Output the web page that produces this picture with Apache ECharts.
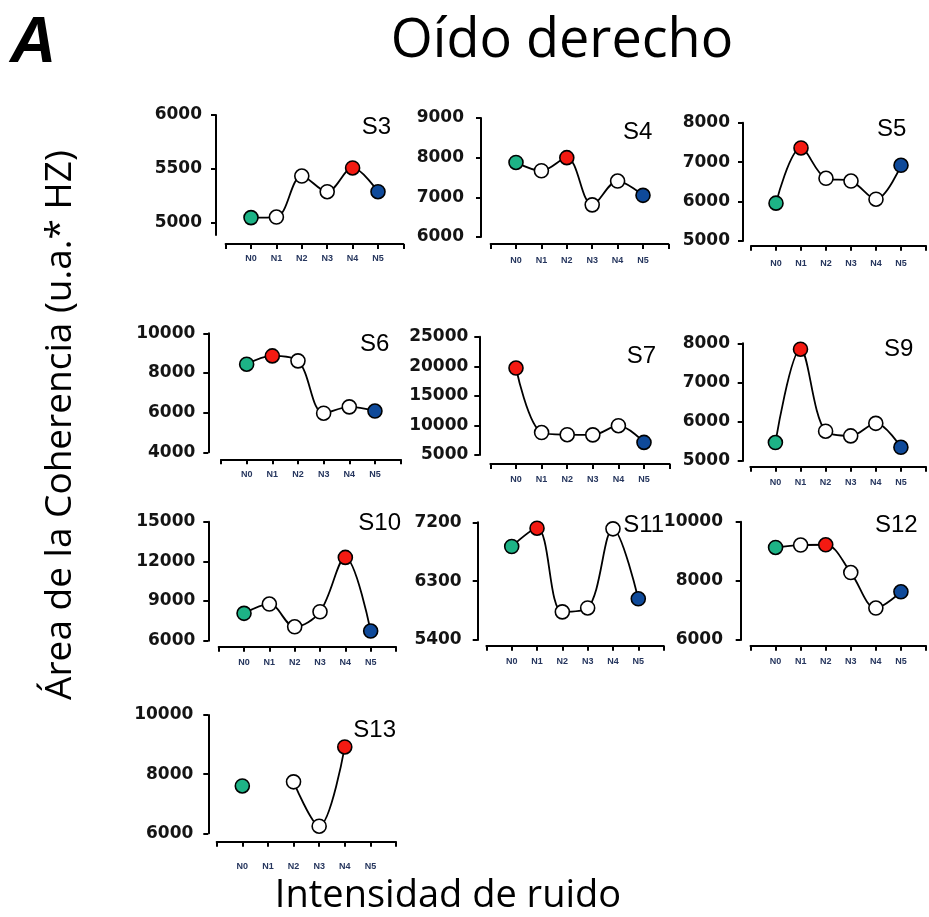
<!DOCTYPE html>
<html>
<head>
<meta charset="utf-8">
<script src="https://cdn.jsdelivr.net/npm/echarts@6/dist/echarts.min.js"></script>
<style>
html,body{margin:0;padding:0;background:#fff;}
#c{width:929px;height:917px;}
</style>
</head>
<body>
<div id="c"></div>
<script>
// ---- data ----
const categories = ['N0', 'N1', 'N2', 'N3', 'N4', 'N5'];
const subjects = ['S3', 'S4', 'S5', 'S6', 'S7', 'S9', 'S10', 'S11', 'S12', 'S13'];
const S3 = [5050, 5055, 5435, 5290, 5510, 5290];
const S4 = [7880, 7670, 8000, 6810, 7410, 7050];
const S5 = [5960, 7360, 6590, 6520, 6060, 6920];
const S6 = [8440, 8860, 8610, 5970, 6290, 6080];
const S7 = [19700, 8800, 8430, 8400, 9950, 7130];
const S9 = [5470, 7850, 5760, 5640, 5960, 5350];
const S10 = [8070, 8770, 7050, 8190, 12300, 6730];
const S11 = [6830, 7110, 5830, 5890, 7100, 6030];
const S12 = [9130, 9210, 9220, 8280, 7080, 7630];
const S13 = [7600, null, 7740, 6240, 8920, null];
const seriesValues = [S3, S4, S5, S6, S7, S9, S10, S11, S12, S13];
// y tick labels per panel
const yTicks = [
  [5000, 5500, 6000],
  [6000, 7000, 8000, 9000],
  [5000, 6000, 7000, 8000],
  [4000, 6000, 8000, 10000],
  [5000, 10000, 15000, 20000, 25000],
  [5000, 6000, 7000, 8000],
  [6000, 9000, 12000, 15000],
  [5400, 6300, 7200],
  [6000, 8000, 10000],
  [6000, 8000, 10000]
];
const yMin = [4889, 6000, 5000, 4000, 5000, 5000, 6000, 5400, 6000, 6000];
const yMax = [6000, 9000, 8000, 10000, 25000, 8000, 15000, 7200, 10000, 10000];

// ---- layout (pixels) ----
// yAxisX, yTop, yBottom, xStart, xEnd, xAxisY, labelGap, xLabelGap, titleX, titleY
const layout = [
  [216, 115, 235, 225.6, 403.4, 244, 14, 10, 361.7, 127],
  [481, 118, 237, 490.6, 668.4, 244, 17, 12, 623, 132],
  [743, 122.7, 241, 751, 930.7, 245.7, 13, 13, 877, 129],
  [208.3, 333.3, 452.3, 221, 400.6, 459.3, 13, 11, 360, 344],
  [479.3, 336.7, 455, 490.4, 669.6, 464, 11, 11, 626.7, 356],
  [742.7, 343.3, 461, 750.3, 928.1, 466.7, 12.7, 11, 884, 349],
  [208.3, 521.7, 640.7, 218.7, 396, 646.7, 13, 11, 358.3, 523],
  [477.7, 522.3, 640, 486.4, 663.6, 645.7, 16, 11, 623.3, 525],
  [740.7, 521.7, 640, 750.5, 927, 645.7, 17.7, 11, 875, 525],
  [208.3, 715, 833.3, 216.7, 396, 841.7, 15, 20, 353.3, 730]
];

const GREEN = '#1db386', RED = '#f41a12', BLUE = '#0f4a9a', WHITE = '#ffffff';
const axisCats = [''].concat(categories, ['']);

const grids = [], xAxes = [], yAxes = [], series = [], graphics = [];
seriesValues.forEach((vals, i) => {
  const L = layout[i];
  const [yx, yt, yb, xs, xe, xay, lg, xlg, tx, ty] = L;
  grids.push({ left: xs, top: yt, width: xe - xs, height: yb - yt, containLabel: false });
  xAxes.push({
    type: 'category', gridIndex: i, data: axisCats, boundaryGap: false,
    offset: xay - yb,
    axisLine: { lineStyle: { color: '#000', width: 2 } },
    axisTick: { show: true, interval: 0, length: 5, lineStyle: { color: '#000', width: 2 } },
    axisLabel: { interval: 0, margin: xlg, color: '#26365e', fontSize: 9, fontWeight: 'bold', fontFamily: 'Liberation Sans' },
    splitLine: { show: false }
  });
  yAxes.push({
    type: 'value', gridIndex: i, min: yMin[i], max: yMax[i],
    offset: xs - yx,
    axisLine: { show: true, lineStyle: { color: '#000', width: 2 } },
    axisTick: { show: true, length: 5, customValues: yTicks[i], lineStyle: { color: '#000', width: 2 } },
    axisLabel: { customValues: yTicks[i], formatter: v => String(v), margin: lg, color: '#141414', fontSize: 17, fontWeight: 'bold', fontFamily: 'DejaVu Sans' },
    splitLine: { show: false }
  });
  let maxIdx = 0;
  vals.forEach((v, k) => { if (v != null && v > vals[maxIdx]) maxIdx = k; });
  const data = ['-'].concat(vals.map((v, k) => {
    let c = WHITE;
    if (k === 0) c = GREEN;
    if (k === categories.length - 1) c = BLUE;
    if (k === maxIdx) c = RED;
    return v == null ? '-' : { value: v, itemStyle: { color: c } };
  }), ['-']);
  series.push({
    type: 'line', xAxisIndex: i, yAxisIndex: i, data: data,
    smooth: 0.35, connectNulls: false,
    lineStyle: { color: '#000', width: 1.8 },
    symbol: 'circle', symbolSize: 14,
    itemStyle: { borderColor: '#000', borderWidth: 1.6 },
    emphasis: { disabled: true },
    silent: true
  });
  graphics.push({
    type: 'text', x: tx, y: ty,
    style: { text: subjects[i], fill: '#000', font: '24px "Liberation Sans"', textAlign: 'left', textVerticalAlign: 'middle' }
  });
});

graphics.push({
  type: 'text', x: 562, y: 42,
  style: { text: 'Oído derecho', fill: '#000', font: '54px "Open Sans"', textAlign: 'center', textVerticalAlign: 'middle' }
});
graphics.push({
  type: 'text', x: 10, y: 44,
  style: { text: 'A', fill: '#000', font: 'italic bold 64px "Liberation Sans"', textAlign: 'left', textVerticalAlign: 'middle' }
});
graphics.push({
  type: 'text', x: 60, y: 425, rotation: Math.PI / 2,
  style: { text: 'Área de la Coherencia (u.a.* HZ)', fill: '#000', font: '37px "Open Sans"', textAlign: 'center', textVerticalAlign: 'middle' }
});
graphics.push({
  type: 'text', x: 448, y: 896,
  style: { text: 'Intensidad de ruido', fill: '#000', font: '38px "Open Sans"', textAlign: 'center', textVerticalAlign: 'middle' }
});

const chart = echarts.init(document.getElementById('c'), null, { renderer: 'canvas' });
chart.setOption({
  animation: false,
  backgroundColor: '#fff',
  grid: grids, xAxis: xAxes, yAxis: yAxes, series: series,
  graphic: graphics
});
</script>
</body>
</html>
